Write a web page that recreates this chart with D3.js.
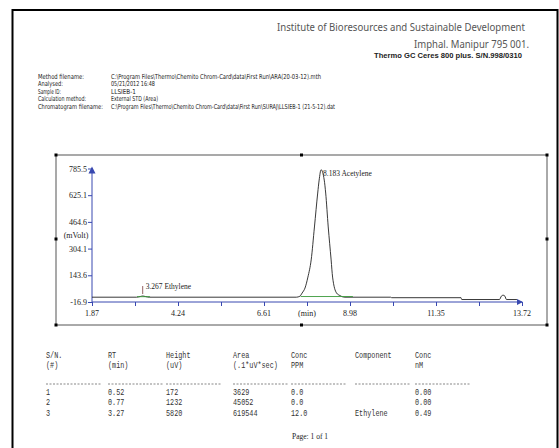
<!DOCTYPE html>
<html><head><meta charset="utf-8">
<script src="https://cdn.jsdelivr.net/npm/d3@7"></script>
<style>html,body{margin:0;padding:0;background:#fff;}svg{display:block;}</style>
</head><body>
<script>
// ---- data ----
const xTickValues = [1.87, 4.24, 6.61, 8.98, 11.35, 13.72];
const yTickValues = [-16.9, 143.6, 304.1, 464.6, 625.1, 785.5];
const traceTime = [1.87, 3.10, 3.20, 3.267, 3.34, 3.45, 7.50, 7.60, 7.66, 7.74, 7.82, 7.91, 8.00, 8.09, 8.13, 8.183, 8.27, 8.31, 8.38, 8.46, 8.50, 8.61, 8.70, 8.84, 10.10, 10.13, 12.04, 12.06, 13.10, 13.15, 13.20, 13.25, 13.29, 13.58];
const traceMv   = [12, 12, 16, 19, 16, 12, 12, 18, 37, 67, 133, 236, 434, 638, 716, 778, 716, 638, 434, 236, 133, 37, 22, 12, 12, 9, 9, -2, -2, 18, 24, 18, -2, -2];
const peakTimes = [3.267, 8.183];
const peakNames = ["Ethylene", "Acetylene"];
const peakMv = [19, 778];
const baseStart = [3.11, 7.62];
const baseEnd = [3.47, 9.06];
const baseMv = [15, 16];
const metaLabels = ["Method filename:", "Analysed:", "Sample ID:", "Calculation method:", "Chromatogram filename:"];
const metaValues = ["C:\\Program Files\\Thermo\\Chemito Chrom-Card\\data\\First Run\\ARA(20-03-12).mth", "05/21/2012  16:48", "LLSIEB-1", "External STD (Area)", "C:\\Program Files\\Thermo\\Chemito Chrom-Card\\data\\First Run\\SURAJ\\LLSIEB-1 (21-5-12).dat"];
const tableHead1 = ["S/N.", "RT", "Height", "Area", "Conc", "Component", "Conc"];
const tableHead2 = ["(#)", "(min)", "(uV)", "(.1*uV*sec)", "PPM", "", "nM"];
const tableRows = [
  ["1", "0.52", "172", "3629", "0.0", "", "0.00"],
  ["2", "0.77", "1232", "45052", "0.0", "", "0.00"],
  ["3", "3.27", "5820", "619544", "12.0", "Ethylene", "0.49"]
];

const W = 559, H = 448;
const svg = d3.select("body").append("svg").attr("width", W).attr("height", H);
svg.append("rect").attr("width", W).attr("height", H).attr("fill", "#fff");

// page frame
svg.append("path").attr("d", `M12.5,448 V10 H557.5 V448`).attr("fill", "none").attr("stroke", "#000").attr("stroke-width", 2);

// header
svg.append("text").attr("x", 277).attr("y", 31)
  .attr("font-family", "Noto Sans, Open Sans, sans-serif").attr("font-size", 10).attr("fill", "#555")
  .attr("textLength", 248).attr("lengthAdjust", "spacingAndGlyphs")
  .text("Institute of Bioresources and Sustainable Development");
svg.append("text").attr("x", 414).attr("y", 48)
  .attr("font-family", "Noto Sans, Open Sans, sans-serif").attr("font-size", 11).attr("fill", "#555")
  .attr("textLength", 115).attr("lengthAdjust", "spacingAndGlyphs")
  .text("Imphal. Manipur 795 001.");
svg.append("text").attr("x", 374).attr("y", 58)
  .attr("font-family", "Liberation Sans, Arial, sans-serif").attr("font-size", 7.5).attr("font-weight", "bold").attr("fill", "#222")
  .attr("textLength", 148).attr("lengthAdjust", "spacingAndGlyphs")
  .text("Thermo GC Ceres 800 plus. S/N.998/0310");

// meta block
const metaY = [78.5, 86, 93.5, 101, 108.5];
const metaLabelW = [46, 25, 23, 48, 65];
const metaValueW = [210, 44, 25, 47, 224];
metaLabels.forEach((t, i) => {
  svg.append("text").attr("x", 38).attr("y", metaY[i])
    .attr("font-family", "Liberation Sans Narrow, DejaVu Sans Condensed, sans-serif").attr("font-size", 6.8).attr("fill", "#222")
    .attr("textLength", metaLabelW[i]).attr("lengthAdjust", "spacingAndGlyphs").text(t);
  svg.append("text").attr("x", 111).attr("y", metaY[i])
    .attr("font-family", "Liberation Sans Narrow, DejaVu Sans Condensed, sans-serif").attr("font-size", 6.8).attr("fill", "#222")
    .attr("textLength", metaValueW[i]).attr("lengthAdjust", "spacingAndGlyphs").text(metaValues[i]);
});

// chart box
const box = {l: 56, t: 155, r: 547, b: 325};
svg.append("rect").attr("x", box.l).attr("y", box.t).attr("width", box.r - box.l).attr("height", box.b - box.t)
  .attr("fill", "none").attr("stroke", "#555").attr("stroke-width", 1);
const midX = (box.l + box.r) / 2, midY = 239;
[[box.l, box.t], [midX, box.t], [box.r, box.t], [box.l, midY], [box.r, midY], [box.l, box.b], [midX, box.b], [box.r, box.b]]
  .forEach(([hx, hy]) => svg.append("rect").attr("x", hx - 1.5).attr("y", hy - 1.5).attr("width", 3).attr("height", 3).attr("fill", "#000"));

// scales
const x = d3.scaleLinear().domain([1.87, 13.72]).range([92, 522]);
const y = d3.scaleLinear().domain([-16.9, 785.5]).range([302, 168.5]);
const axisColor = "#3848b0";
const serif = "Liberation Serif, Times New Roman, serif";

// x axis
const xMinor = xTickValues.slice(0, -1).map((v, i) => (v + xTickValues[i + 1]) / 2);
const gx = svg.append("g").attr("transform", `translate(0,${y(-16.9)})`);
gx.call(d3.axisBottom(x).tickValues(xTickValues.concat(xMinor)).tickSize(4).tickFormat(""));
gx.select(".domain").attr("stroke", axisColor).attr("d", `M${x(1.87)},0H${x(13.72)}`);
gx.selectAll(".tick line").attr("stroke", axisColor);
xTickValues.forEach(v => svg.append("text").attr("x", x(v)).attr("y", y(-16.9) + 14).attr("text-anchor", "middle")
  .attr("font-family", serif).attr("font-size", 8).attr("fill", "#222").text(v.toFixed(2)));
svg.append("text").attr("x", x(xMinor[2])).attr("y", y(-16.9) + 14).attr("text-anchor", "middle")
  .attr("font-family", serif).attr("font-size", 8).attr("fill", "#222").text("(min)");
svg.append("path").attr("d", `M${x(13.72) + 1},${y(-16.9)} l-6,-3 v6 z`).attr("fill", axisColor);

// y axis
const gy = svg.append("g").attr("transform", `translate(${x(1.87)},0)`);
gy.call(d3.axisLeft(y).tickValues(yTickValues).tickSize(4).tickFormat(""));
gy.select(".domain").attr("stroke", axisColor).attr("d", `M0,${y(-16.9)}V${y(785.5)}`);
gy.selectAll(".tick line").attr("stroke", axisColor);
yTickValues.forEach(v => svg.append("text").attr("x", x(1.87) - 5).attr("y", y(v) + 3).attr("text-anchor", "end")
  .attr("font-family", serif).attr("font-size", 8).attr("fill", "#222").text(v.toFixed(1)));
svg.append("path").attr("d", `M${x(1.87)},${y(785.5) - 2} l-3.5,7 h7 z`).attr("fill", axisColor);
svg.append("text").attr("x", 76).attr("y", 238).attr("text-anchor", "middle")
  .attr("font-family", serif).attr("font-size", 8).attr("fill", "#222").text("(mVolt)");

// trace
const trace = traceTime.map((t, i) => [t, traceMv[i]]);
svg.append("path").datum(trace)
  .attr("d", d3.line().x(d => x(d[0])).y(d => y(d[1])).curve(d3.curveMonotoneX))
  .attr("fill", "none").attr("stroke", "#222").attr("stroke-width", 0.9);

// peak baselines (green)
baseStart.forEach((s, i) => svg.append("line").attr("x1", x(s)).attr("x2", x(baseEnd[i]))
  .attr("y1", y(baseMv[i])).attr("y2", y(baseMv[i])).attr("stroke", "#3a9a3a").attr("stroke-width", 0.9));

// peak labels
peakTimes.forEach((t, i) => {
  if (i === 0) {
    svg.append("line").attr("x1", x(t)).attr("x2", x(t)).attr("y1", y(peakMv[i]) - 2).attr("y2", y(peakMv[i]) - 10)
      .attr("stroke", "#7a3a3a").attr("stroke-width", 0.8);
    svg.append("text").attr("x", x(t) + 3).attr("y", y(peakMv[i]) - 7)
      .attr("font-family", serif).attr("font-size", 7.5).attr("fill", "#222").text(t.toFixed(3) + "  " + peakNames[i]);
  } else {
    svg.append("text").attr("x", x(t) + 2).attr("y", y(peakMv[i]) + 6)
      .attr("font-family", serif).attr("font-size", 7.5).attr("fill", "#222").text(t.toFixed(3) + "  " + peakNames[i]);
  }
});

// table
const colX = [46, 108, 166, 233, 291, 355, 415];
const mono = "Liberation Mono, DejaVu Sans Mono, monospace";
const sx = 0.8;
function mtext(tx, ty, s) {
  svg.append("text").attr("transform", `translate(${tx},${ty}) scale(${sx},1)`)
    .attr("font-family", mono).attr("font-size", 8.5).attr("fill", "#333").text(s);
}
tableHead1.forEach((s, i) => mtext(colX[i], 358, s));
tableHead2.forEach((s, i) => mtext(colX[i], 367.5, s));
colX.forEach((cx, i) => svg.append("line").attr("x1", cx).attr("x2", cx + 56).attr("y1", 384).attr("y2", 384)
  .attr("stroke", "#555").attr("stroke-width", 0.7).attr("stroke-dasharray", "2,1.5"));
tableRows.forEach((r, j) => r.forEach((s, i) => mtext(colX[i], 395 + j * 10.3, s)));

svg.append("text").attr("x", 310).attr("y", 439).attr("text-anchor", "middle")
  .attr("font-family", serif).attr("font-size", 7.5).attr("fill", "#222").text("Page: 1 of 1");
</script>
</body></html>
